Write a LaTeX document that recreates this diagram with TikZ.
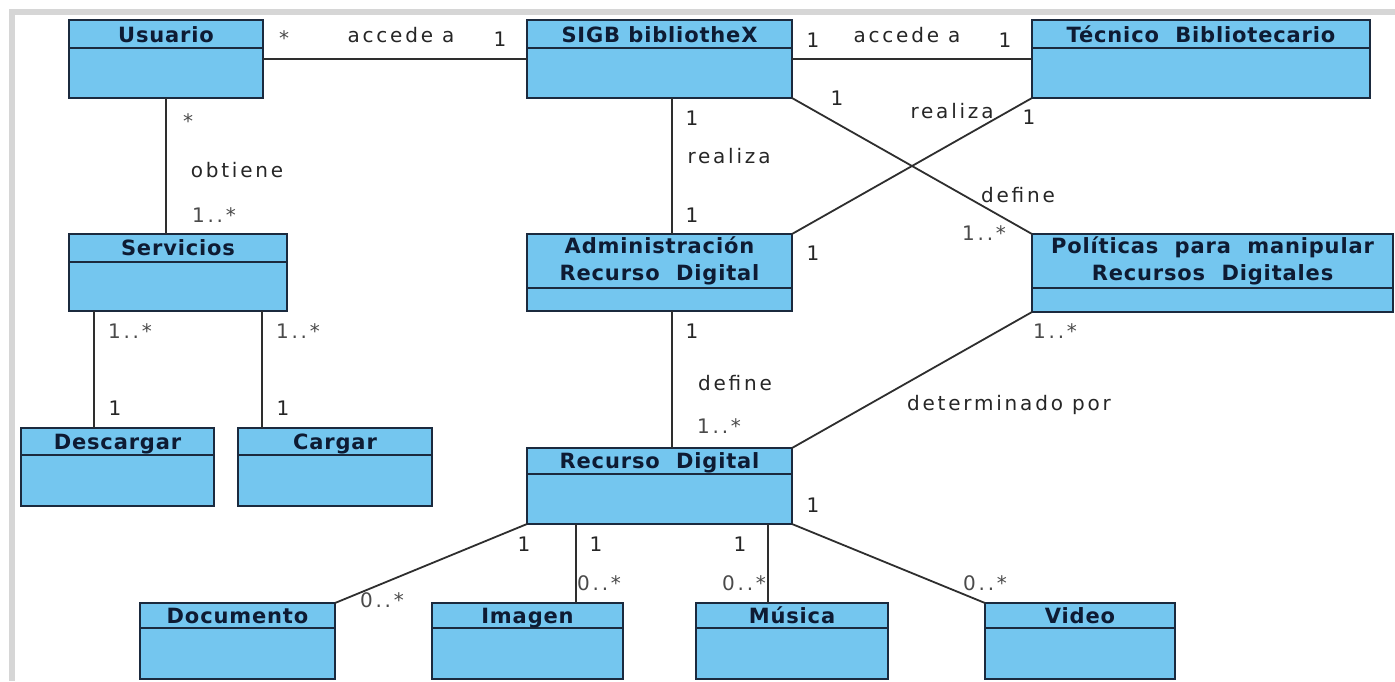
\documentclass[tikz,border=0pt]{standalone}
\usepackage{fontspec}
\setmainfont{DejaVu Sans}
\newfontfamily\lblfont[LetterSpace=14]{DejaVu Sans}
\newfontfamily\ttlfont[LetterSpace=4]{DejaVu Sans}
\usetikzlibrary{calc}

\definecolor{classfill}{HTML}{74C6EF}
\definecolor{classedge}{HTML}{1B2A3E}
\definecolor{classtext}{HTML}{0E1B33}
\definecolor{wire}{HTML}{2E2E2E}
\definecolor{lbltext}{HTML}{262626}
\definecolor{multtext}{HTML}{4A4A4A}
\definecolor{framegray}{HTML}{D6D6D6}

\tikzset{
  classbox/.style={draw=classedge, fill=classfill, line width=1pt, rectangle, inner sep=0pt, outer sep=0pt},
  divider/.style={draw=classedge, line width=1pt},
  classtitle/.style={font=\ttlfont\bfseries\fontsize{10.5}{13.5}\selectfont, text=classtext, align=center, inner sep=0pt},
  assoc/.style={draw=wire, line width=0.9pt},
  lbl/.style={font=\lblfont\fontsize{10}{12}\selectfont, text=lbltext, inner sep=0pt, anchor=base},
  mult/.style={lbl, text=multtext},
}

% class box: name, x, y, width, height, header height (pixel units)
\newcommand{\umlclass}[6]{%
  \node[classbox, anchor=north west, minimum width={#4*0.5pt}, minimum height={#5*0.5pt}] (#1) at (#2,#3) {};
  \draw[divider] ($(#1.north west)+(0,#6)$) -- ($(#1.north east)+(0,#6)$);
}

\begin{document}
\begin{tikzpicture}[x=0.5pt, y=-0.5pt]
\useasboundingbox (0,0) rectangle (1395,681);
\fill[white] (0,0) rectangle (1395,681);
% window frame
\fill[framegray] (9,9) rectangle (1395,15);
\fill[framegray] (9,9) rectangle (15,681);

% classes
\umlclass{usuario}{69}{20}{194}{78}{28}
\umlclass{sigb}{527}{20}{265}{78}{28}
\umlclass{tecnico}{1032}{20}{338}{78}{28}
\umlclass{servicios}{69}{234}{218}{77}{28}
\umlclass{descargar}{21}{428}{193}{78}{27}
\umlclass{cargar}{238}{428}{194}{78}{27}
\umlclass{admin}{527}{234}{265}{77}{54}
\umlclass{politicas}{1032}{234}{361}{78}{54}
\umlclass{recurso}{527}{448}{265}{76}{26}
\umlclass{documento}{140}{603}{195}{76}{25}
\umlclass{imagen}{432}{603}{191}{76}{25}
\umlclass{musica}{696}{603}{192}{76}{25}
\umlclass{video}{985}{603}{190}{76}{25}

% class names
\node[classtitle, anchor=base] (usuario-t) at ($(usuario.north)+(0,22)$) {Usuario};
\node[classtitle, anchor=base] (sigb-t) at ($(sigb.north)+(0,22)$) {SIGB bibliotheX};
\node[classtitle, anchor=base] (tecnico-t) at ($(tecnico.north)+(0,22)$) {Técnico\ \ Bibliotecario};
\node[classtitle, anchor=base] (servicios-t) at ($(servicios.north)+(0,21)$) {Servicios};
\node[classtitle, anchor=base] (descargar-t) at ($(descargar.north)+(0,21)$) {Descargar};
\node[classtitle, anchor=base] (cargar-t) at ($(cargar.north)+(0,21)$) {Cargar};
\node[classtitle] (admin-t) at ($(admin.north)+(0,27)$) {Administración\\Recurso\ \ Digital};
\node[classtitle] (politicas-t) at ($(politicas.north)+(0,27)$) {Políticas\ \ para\ \ manipular\\Recursos\ \ Digitales};
\node[classtitle, anchor=base] (recurso-t) at ($(recurso.north)+(0,20)$) {Recurso\ \ Digital};
\node[classtitle, anchor=base] (documento-t) at ($(documento.north)+(0,20)$) {Documento};
\node[classtitle, anchor=base] (imagen-t) at ($(imagen.north)+(0,20)$) {Imagen};
\node[classtitle, anchor=base] (musica-t) at ($(musica.north)+(0,20)$) {Música};
\node[classtitle, anchor=base] (video-t) at ($(video.north)+(0,20)$) {Video};

% attachment points of the straight associations
\coordinate (us) at (usuario.south);
\coordinate (sd) at ($(servicios.south west)+(25,0)$);
\coordinate (sc) at ($(servicios.south east)+(-25,0)$);
\coordinate (sa) at ($(sigb.south)+(12.5,0)$);
\coordinate (ar) at ($(admin.south)+(12.5,0)$);
\coordinate (ri) at ($(recurso.south west)+(49,0)$);
\coordinate (rm) at ($(recurso.south east)+(-24,0)$);

% associations
\draw[assoc] (usuario.east) -- (sigb.west);
\draw[assoc] (sigb.east) -- (tecnico.west);
\draw[assoc] (us) -- (us |- servicios.north);
\draw[assoc] (sd) -- (sd |- descargar.north);
\draw[assoc] (sc) -- (sc |- cargar.north);
\draw[assoc] (sa) -- (sa |- admin.north);
\draw[assoc] (sigb.south east) -- (politicas.north west);
\draw[assoc] (admin.north east) -- (tecnico.south west);
\draw[assoc] (ar) -- (ar |- recurso.north);
\draw[assoc] (recurso.north east) -- (politicas.south west);
\draw[assoc] (recurso.south west) -- (documento.north east);
\draw[assoc] (ri) -- (ri |- imagen.north);
\draw[assoc] (rm) -- (rm |- musica.north);
\draw[assoc] (recurso.south east) -- (video.north west);

% association names and multiplicities
\node[mult] (m1) at (284,45) {*};
\node[lbl] (n1) at (401,42) {accede a};
\node[lbl] (m2) at (500,46) {1};
\node[lbl] (m3) at (813,47) {1};
\node[lbl] (n2) at (907,42) {accede a};
\node[lbl] (m4) at (1005,47) {1};

\node[mult] (m5) at (188,128) {*};
\node[lbl] (n3) at (237,177) {obtiene};
\node[mult] (m6) at (214,222) {1..*};

\node[mult] (m7) at (130,338) {1..*};
\node[lbl] (m8) at (115,415) {1};
\node[mult] (m9) at (298,338) {1..*};
\node[lbl] (m10) at (283,415) {1};

\node[lbl] (m11) at (692,125) {1};
\node[lbl] (n4) at (729,163) {realiza};
\node[lbl] (m12) at (692,222) {1};

\node[lbl] (m13) at (837,105) {1};
\node[lbl] (n5) at (952,118) {realiza};
\node[lbl] (m14) at (1029,124) {1};
\node[lbl] (m15) at (813,260) {1};

\node[lbl] (n6) at (1018,202) {define};
\node[mult] (m16) at (984,240) {1..*};

\node[lbl] (m17) at (692,338) {1};
\node[lbl] (n7) at (735,390) {define};
\node[mult] (m18) at (719,433) {1..*};

\node[mult] (m19) at (1055,338) {1..*};
\node[lbl] (n8) at (1009,410) {determinado por};

\node[lbl] (m20) at (813,512) {1};
\node[lbl] (m21) at (524,551) {1};
\node[lbl] (m22) at (596,551) {1};
\node[lbl] (m23) at (740,551) {1};
\node[mult] (m24) at (382,607) {0..*};
\node[mult] (m25) at (599,590) {0..*};
\node[mult] (m26) at (744,590) {0..*};
\node[mult] (m27) at (985,590) {0..*};
\end{tikzpicture}
\end{document}
